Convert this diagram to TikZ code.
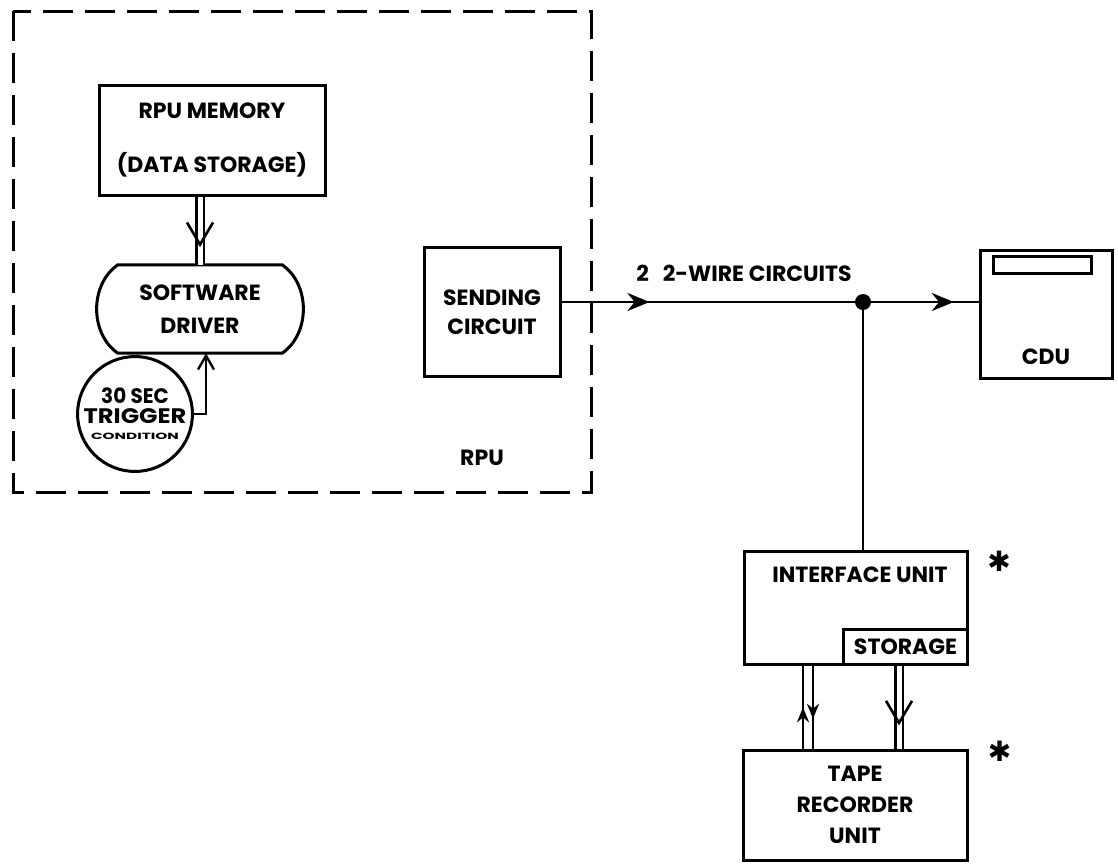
\documentclass[tikz,border=0pt]{standalone}
\usepackage{fontspec}
\setmainfont{Poppins}
\newfontfamily\symfont{DejaVu Sans}
\usetikzlibrary{positioning,arrows.meta,calc,decorations.markings}

\begin{document}
\begin{tikzpicture}[x=1pt, y=-1pt,
  box/.style={draw, line width=3pt, align=center, inner sep=0pt,
    font=\fontsize{22}{29}\selectfont\bfseries},
  lbl/.style={inner sep=0pt, font=\fontsize{22}{29}\selectfont\bfseries},
  wire/.style={line width=2.8pt},
  pair/.style={line width=2.6pt, double, double distance=5pt},
  vmark/.style={postaction={decorate, decoration={markings,
    mark=at position #1 with {\arrow{Straight Barb[length=22pt, width=26pt, line width=2.6pt]}}}}},
  smark/.style={postaction={decorate, decoration={markings,
    mark=at position #1 with {\arrow{Stealth[length=22pt, width=18pt]}}}}},
  tmark/.style={postaction={decorate, decoration={markings,
    mark=at position #1 with {\arrow{Stealth[length=15pt, width=12pt]}}}}}]
\useasboundingbox[fill=white] (0,0) rectangle (1118,863);
% RPU frame
\draw[line width=3pt, dash pattern=on 30pt off 12pt] (13,11) rectangle (591,492);
\node[lbl] (rpu) at (482,458) {RPU};
% Blocks inside the RPU
\node[box, minimum width=226pt, minimum height=110pt,
  font=\fontsize{22}{54}\selectfont\bfseries] (mem) at (212,140)
  {RPU MEMORY\\(DATA STORAGE)};
\node[align=center, inner sep=0pt, minimum width=212pt, minimum height=88pt,
  font=\fontsize{22}{33}\selectfont\bfseries] (drv) at (200,309) {SOFTWARE\\DRIVER};
\draw[line width=3pt] ($(drv.north west)+(24,0)$) -- ($(drv.north east)+(-24,0)$)
  to[bend left=55] ($(drv.south east)+(-24,0)$) -- ($(drv.south west)+(24,0)$)
  to[bend left=55] cycle;
\node[box, minimum width=136pt, minimum height=129pt] (send) at (492,312) {SENDING\\CIRCUIT};
\node[circle, draw, line width=3pt, minimum size=95pt, inner sep=0pt, align=center,
  font=\fontsize{21}{20}\selectfont\bfseries] (trig) at (135,414)
  {\scalebox{0.95}[1]{30 SEC}\\\scalebox{1.15}[1]{TRIGGER}\\[-4pt]%
   \scalebox{1.7}[1]{\fontsize{9}{9}\selectfont CONDITION}};
% Links inside the RPU
\draw[pair] (drv.north |- mem.south) -- (drv.north);
\path[vmark=0.74] (drv.north |- mem.south) -- (drv.north);
\draw[pair] ($(drv.east)+(0,-5)$) -- ($(drv.east)+(0,-5)$ -| send.west);
\path[vmark=0.57] ($(drv.east)+(0,-5)$) -- ($(drv.east)+(0,-5)$ -| send.west);
\draw[wire, -{Straight Barb[length=14pt, width=16pt, line width=2.4pt]}]
  (trig.east) -| ($(drv.south)+(6,0)$);
% Outside units
\node[circle, fill, minimum size=16pt, inner sep=0pt] (jn) at (863,302) {};
\node[box, minimum width=132pt, minimum height=128pt] (cdu) at (1046,314) {};
\draw[line width=2.8pt] ($(cdu.north west)+(15,8)$) rectangle ($(cdu.north west)+(113,25)$);
\node[lbl] (cdutxt) at ($(cdu.south)+(0,-23)$) {CDU};
\node[box, minimum width=223pt, minimum height=113pt] (iface) at (856,608) {};
\node[lbl] (ifacetxt) at ($(iface.north)+(4,25)$) {INTERFACE UNIT};
\node[box, anchor=south east, minimum width=124pt, minimum height=35pt] (stor)
  at (iface.south east) {STORAGE};
\node[box, minimum width=224pt, minimum height=110pt,
  font=\fontsize{22}{31}\selectfont\bfseries] (tape) at (855,805) {TAPE\\RECORDER\\UNIT};
\node[inner sep=0pt, font=\symfont\fontsize{28}{28}\selectfont] (ast1)
  at ($(iface.north east)+(30,11)$) {✱};
\node[inner sep=0pt, font=\symfont\fontsize{28}{28}\selectfont] (ast2)
  at ($(tape.north east)+(31,3)$) {✱};
% Wiring
\draw[wire, smark=0.3] (send.east |- jn) -- (jn);
\node[lbl, anchor=south] (wires) at ($(jn)+(-119,-20)$) {2\hspace{14pt}2-WIRE CIRCUITS};
\draw[wire, smark=0.77] (jn) -- (jn -| cdu.west);
\draw[wire] (jn) -- (jn |- iface.north);
\coordinate (lp1) at ($(iface.south west)+(60,0)$);
\coordinate (lp2) at ($(iface.south west)+(70,0)$);
\coordinate (rp) at ($(iface.south west)+(156,0)$);
\draw[wire, tmark=0.5] (lp1 |- tape.north) -- (lp1);
\draw[wire, tmark=0.64] (lp2) -- (lp2 |- tape.north);
\draw[pair] (rp) -- (rp |- tape.north);
\path[vmark=0.72] (rp) -- (rp |- tape.north);
\end{tikzpicture}
\end{document}
